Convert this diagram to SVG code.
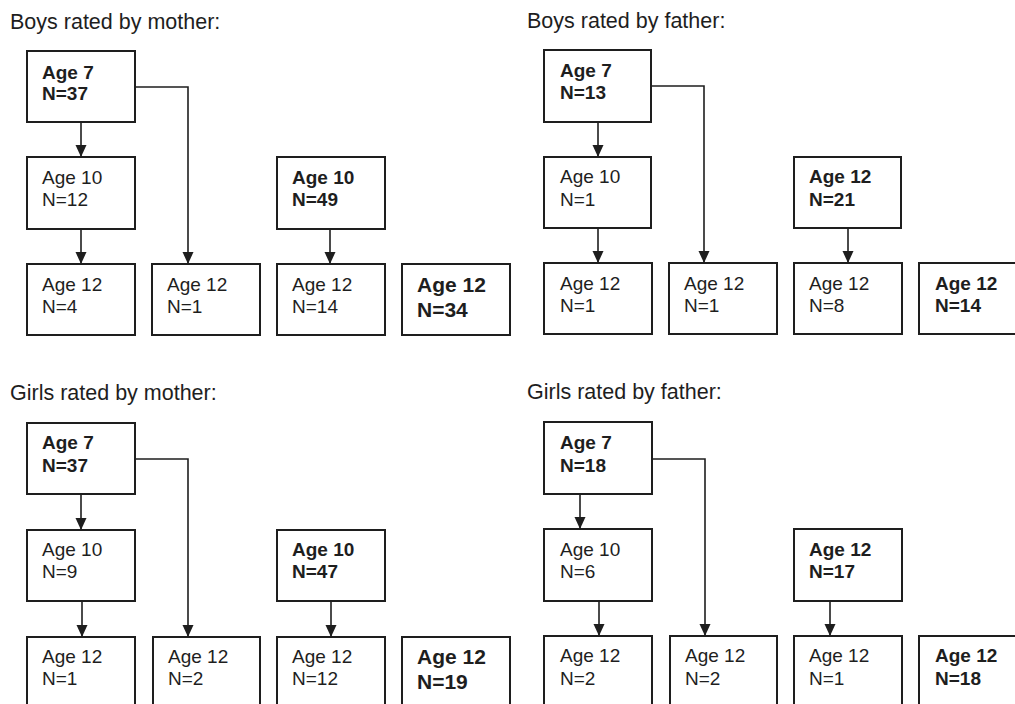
<svg xmlns="http://www.w3.org/2000/svg" width="1015" height="704" viewBox="0 0 1015 704">
<style>
.t{font-family:"Liberation Sans",Arial,sans-serif;fill:#1e1e1e}
.title{font-size:21.5px}
.n{font-size:19px}
.b{font-size:19px;font-weight:bold}
.bl{font-size:21px;font-weight:bold}
.box{fill:#fff;stroke:#1e1e1e;stroke-width:2}
.c{fill:none;stroke:#1e1e1e;stroke-width:1.6;marker-end:url(#ah)}
</style>
<defs>
<marker id="ah" markerUnits="userSpaceOnUse" markerWidth="13" markerHeight="12" refX="12" refY="6" orient="auto" viewBox="0 0 13 12">
<path d="M0,0.5 L12,6 L0,11.5 Z" fill="#1e1e1e"/>
</marker>
</defs>
<rect width="1015" height="704" fill="#fff"/>

<g id="titles">
<text class="t title" x="10" y="29">Boys rated by mother:</text>
<text class="t title" x="527" y="28">Boys rated by father:</text>
<text class="t title" x="10" y="400">Girls rated by mother:</text>
<text class="t title" x="527" y="399">Girls rated by father:</text>
</g>

<g id="connectors">
<path class="c" d="M81,122 V157"/>
<path class="c" d="M81,229 V264"/>
<path class="c" d="M135,87 H188 V264"/>
<path class="c" d="M330,229 V264"/>

<path class="c" d="M598,122 V157"/>
<path class="c" d="M598,228 V263"/>
<path class="c" d="M651,86 H704 V263"/>
<path class="c" d="M848,228 V263"/>

<path class="c" d="M81,494 V530"/>
<path class="c" d="M82,601 V637"/>
<path class="c" d="M135,459 H188 V637"/>
<path class="c" d="M331,601 V637"/>

<path class="c" d="M580,494 V529"/>
<path class="c" d="M599,601 V636"/>
<path class="c" d="M652,459 H705 V636"/>
<path class="c" d="M830,601 V636"/>
</g>

<!-- Boys rated by mother -->
<g id="bm-age7"><rect class="box" x="27" y="51" width="108" height="71"/><text class="t b" x="42" y="79">Age 7</text><text class="t b" x="42" y="100">N=37</text></g>
<g id="bm-age10"><rect class="box" x="27" y="157" width="108" height="72"/><text class="t n" x="42" y="184">Age 10</text><text class="t n" x="42" y="206">N=12</text></g>
<g id="bm-age10b"><rect class="box" x="277" y="157" width="108" height="72"/><text class="t b" x="292" y="184">Age 10</text><text class="t b" x="292" y="206">N=49</text></g>
<g id="bm-a"><rect class="box" x="27" y="264" width="108" height="71"/><text class="t n" x="42" y="291">Age 12</text><text class="t n" x="42" y="313">N=4</text></g>
<g id="bm-b"><rect class="box" x="152" y="264" width="108" height="71"/><text class="t n" x="167" y="291">Age 12</text><text class="t n" x="167" y="313">N=1</text></g>
<g id="bm-c"><rect class="box" x="277" y="264" width="108" height="71"/><text class="t n" x="292" y="291">Age 12</text><text class="t n" x="292" y="313">N=14</text></g>
<g id="bm-d"><rect class="box" x="402" y="264" width="108" height="71"/><text class="t bl" x="417" y="292">Age 12</text><text class="t bl" x="417" y="317">N=34</text></g>

<!-- Boys rated by father -->
<g id="bf-age7"><rect class="box" x="544" y="50" width="107" height="72"/><text class="t b" x="560" y="77">Age 7</text><text class="t b" x="560" y="99">N=13</text></g>
<g id="bf-age10"><rect class="box" x="544" y="157" width="107" height="71"/><text class="t n" x="560" y="183">Age 10</text><text class="t n" x="560" y="206">N=1</text></g>
<g id="bf-age12"><rect class="box" x="794" y="157" width="107" height="71"/><text class="t b" x="809" y="183">Age 12</text><text class="t b" x="809" y="206">N=21</text></g>
<g id="bf-a"><rect class="box" x="544" y="263" width="108" height="71"/><text class="t n" x="560" y="290">Age 12</text><text class="t n" x="560" y="312">N=1</text></g>
<g id="bf-b"><rect class="box" x="669" y="263" width="108" height="71"/><text class="t n" x="684" y="290">Age 12</text><text class="t n" x="684" y="312">N=1</text></g>
<g id="bf-c"><rect class="box" x="794" y="263" width="108" height="71"/><text class="t n" x="809" y="290">Age 12</text><text class="t n" x="809" y="312">N=8</text></g>
<g id="bf-d"><rect class="box" x="919" y="263" width="108" height="71"/><text class="t b" x="935" y="290">Age 12</text><text class="t b" x="935" y="312">N=14</text></g>

<!-- Girls rated by mother -->
<g id="gm-age7"><rect class="box" x="27" y="423" width="108" height="71"/><text class="t b" x="42" y="449">Age 7</text><text class="t b" x="42" y="472">N=37</text></g>
<g id="gm-age10"><rect class="box" x="27" y="530" width="108" height="71"/><text class="t n" x="42" y="556">Age 10</text><text class="t n" x="42" y="578">N=9</text></g>
<g id="gm-age10b"><rect class="box" x="277" y="530" width="108" height="71"/><text class="t b" x="292" y="556">Age 10</text><text class="t b" x="292" y="578">N=47</text></g>
<g id="gm-a"><rect class="box" x="27" y="637" width="108" height="72"/><text class="t n" x="42" y="663">Age 12</text><text class="t n" x="42" y="685">N=1</text></g>
<g id="gm-b"><rect class="box" x="153" y="637" width="107" height="72"/><text class="t n" x="168" y="663">Age 12</text><text class="t n" x="168" y="685">N=2</text></g>
<g id="gm-c"><rect class="box" x="277" y="637" width="108" height="72"/><text class="t n" x="292" y="663">Age 12</text><text class="t n" x="292" y="685">N=12</text></g>
<g id="gm-d"><rect class="box" x="402" y="637" width="108" height="72"/><text class="t bl" x="417" y="664">Age 12</text><text class="t bl" x="417" y="689">N=19</text></g>

<!-- Girls rated by father -->
<g id="gf-age7"><rect class="box" x="544" y="422" width="108" height="72"/><text class="t b" x="560" y="449">Age 7</text><text class="t b" x="560" y="472">N=18</text></g>
<g id="gf-age10"><rect class="box" x="544" y="529" width="108" height="72"/><text class="t n" x="560" y="556">Age 10</text><text class="t n" x="560" y="578">N=6</text></g>
<g id="gf-age12"><rect class="box" x="794" y="529" width="108" height="72"/><text class="t b" x="809" y="556">Age 12</text><text class="t b" x="809" y="578">N=17</text></g>
<g id="gf-a"><rect class="box" x="544" y="636" width="108" height="72"/><text class="t n" x="560" y="662">Age 12</text><text class="t n" x="560" y="685">N=2</text></g>
<g id="gf-b"><rect class="box" x="670" y="636" width="107" height="72"/><text class="t n" x="685" y="662">Age 12</text><text class="t n" x="685" y="685">N=2</text></g>
<g id="gf-c"><rect class="box" x="794" y="636" width="108" height="72"/><text class="t n" x="809" y="662">Age 12</text><text class="t n" x="809" y="685">N=1</text></g>
<g id="gf-d"><rect class="box" x="919" y="636" width="108" height="72"/><text class="t b" x="935" y="662">Age 12</text><text class="t b" x="935" y="685">N=18</text></g>
</svg>
